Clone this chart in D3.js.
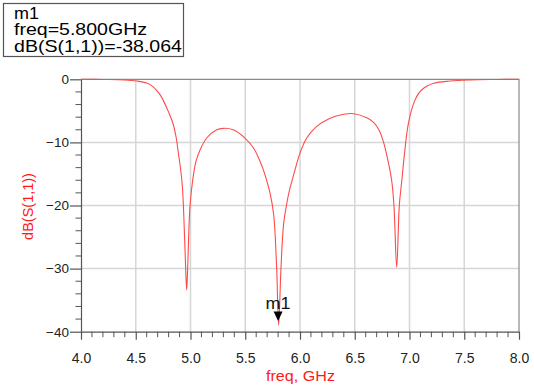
<!DOCTYPE html>
<html>
<head>
<meta charset="utf-8">
<script src="https://cdn.jsdelivr.net/npm/d3@7"></script>
<style>
  body { margin: 0; background: #fff; }
  text { font-family: Arial, "Liberation Sans", sans-serif; }
</style>
</head>
<body>
<div id="chart"></div>
<script>
// S11 trace (GHz, dB)
const freqs = [4.0, 4.2, 4.4, 4.51, 4.6, 4.66, 4.72, 4.75, 4.8, 4.84, 4.87, 4.89, 4.91, 4.925, 4.937, 4.956, 4.965, 4.974, 4.995, 5.02, 5.05, 5.087, 5.148, 5.24, 5.30, 5.39, 5.50, 5.58, 5.63, 5.67, 5.70, 5.73, 5.76, 5.787, 5.805, 5.826, 5.85, 5.878, 5.905, 5.93, 5.955, 6.0, 6.06, 6.15, 6.27, 6.40, 6.49, 6.61, 6.67, 6.72, 6.76, 6.80, 6.837, 6.858, 6.883, 6.907, 6.93, 6.955, 6.99, 7.05, 7.11, 7.22, 7.37, 7.55, 7.8, 8.0];
const s11 = [0, -0.03, -0.1, -0.27, -0.6, -1.2, -2.4, -3.3, -5.2, -7.0, -9.3, -11.8, -14.3, -16.8, -20.8, -30, -33.4, -30, -20.2, -16, -13, -11.2, -9.3, -8.0, -7.77, -8.0, -9.35, -11.0, -12.8, -14.6, -16.3, -18.3, -21.5, -30, -39.0, -30, -23, -19.8, -17.5, -15.9, -14.3, -11.7, -9.35, -7.5, -6.2, -5.55, -5.45, -6.1, -6.8, -8.0, -9.8, -12.6, -16, -20, -29.8, -20, -16, -11.7, -7.0, -3.3, -1.7, -0.64, -0.27, -0.1, -0.03, 0];

const xTicks = [4.0, 4.5, 5.0, 5.5, 6.0, 6.5, 7.0, 7.5, 8.0];
const yTicks = [0, -10, -20, -30, -40];

const markerName = "m1";
const markerFreq = 5.8;
const markerDb = -38.064;

const W = 534, H = 389;
const svg = d3.select("#chart").append("svg")
  .attr("width", W).attr("height", H);

const x = d3.scaleLinear().domain([4, 8]).range([81, 519]);
const y = d3.scaleLinear().domain([-40, 0]).range([331.7, 79.3]);

// grid
svg.append("g")
  .selectAll("line.vg")
  .data(xTicks.slice(1, -1))
  .enter().append("line")
  .attr("x1", d => x(d)).attr("x2", d => x(d))
  .attr("y1", y(0)).attr("y2", y(-40))
  .attr("stroke", "#d6d6d6").attr("stroke-width", 1.5);
svg.append("g")
  .selectAll("line.hg")
  .data(yTicks.slice(1, -1))
  .enter().append("line")
  .attr("x1", x(4)).attr("x2", x(8))
  .attr("y1", d => y(d)).attr("y2", d => y(d))
  .attr("stroke", "#d6d6d6").attr("stroke-width", 1.5);

// top and right frame
svg.append("path")
  .attr("d", `M${x(4)},${y(0)}H${x(8)}V${y(-40)}`)
  .attr("fill", "none").attr("stroke", "#8a8a8a").attr("stroke-width", 1.2);

// minor ticks
const xMinor = d3.range(40, 81).map(v => v / 10).filter(v => Math.round(v * 10) % 5 !== 0);
const yMinor = d3.range(-40, 1, 2).filter(v => v % 10 !== 0);

const xAxis = svg.append("g").attr("transform", `translate(0,${y(-40)})`)
  .call(d3.axisBottom(x).tickValues(xTicks).tickSize(8).tickSizeOuter(0).tickFormat(d3.format(".1f")));
xAxis.append("g").selectAll("line").data(xMinor).enter().append("line")
  .attr("x1", d => x(d)).attr("x2", d => x(d)).attr("y1", 0).attr("y2", 5.5)
  .attr("stroke", "#555");
xAxis.selectAll(".tick text").attr("dy", "1.45em").style("font-size", "14px").attr("fill", "#222")
  .attr("font-family", "Arial, 'Liberation Sans', sans-serif");

const yAxis = svg.append("g").attr("transform", `translate(${x(4)},0)`)
  .call(d3.axisLeft(y).tickValues(yTicks).tickSize(11).tickSizeOuter(0));
yAxis.append("g").selectAll("line").data(yMinor).enter().append("line")
  .attr("x1", -5.5).attr("x2", 0).attr("y1", d => y(d)).attr("y2", d => y(d))
  .attr("stroke", "#555");
yAxis.selectAll(".tick text").attr("x", -12).style("font-size", "13.5px").attr("fill", "#222")
  .attr("font-family", "Arial, 'Liberation Sans', sans-serif");

svg.selectAll(".domain, .tick line").attr("stroke", "#555").attr("stroke-width", 1.2);

// trace
const pts = freqs.map((f, i) => [f, s11[i]]);
const line = d3.line().x(d => x(d[0])).y(d => y(d[1])).curve(d3.curveCatmullRom.alpha(0.5));
svg.append("path")
  .datum(pts)
  .attr("d", line)
  .attr("fill", "none")
  .attr("stroke", "#ff4a4a")
  .attr("stroke-width", 1.1);

// axis titles
svg.append("text")
  .attr("x", 300.5).attr("y", 380.5)
  .attr("text-anchor", "middle")
  .attr("fill", "#ff1a1a")
  .style("font-size", "15px")
  .attr("textLength", 69).attr("lengthAdjust", "spacingAndGlyphs")
  .text("freq, GHz");
svg.append("text")
  .attr("transform", "translate(33,206.5) rotate(-90)")
  .attr("text-anchor", "middle")
  .attr("fill", "#ff1a1a")
  .style("font-size", "14.5px")
  .text("dB(S(1,1))");

// marker
const mx = x(markerFreq), my = y(markerDb);
svg.append("path")
  .attr("d", `M${mx - 4.5},${my - 8}H${mx + 4.5}L${mx},${my + 1.5}Z`)
  .attr("fill", "#000");
svg.append("text")
  .attr("x", mx).attr("y", my - 10)
  .attr("text-anchor", "middle")
  .style("font-size", "16px")
  .attr("fill", "#111")
  .attr("textLength", 25).attr("lengthAdjust", "spacingAndGlyphs")
  .text(markerName);

// marker readout box
svg.append("rect")
  .attr("x", 3.5).attr("y", 3.5).attr("width", 180).attr("height", 53)
  .attr("fill", "#fff").attr("stroke", "#555").attr("stroke-width", 1.2);
const readout = [
  { t: markerName, y: 18.5, w: 25 },
  { t: `freq=${markerFreq.toFixed(3)}GHz`, y: 35, w: 133 },
  { t: `dB(S(1,1))=${markerDb.toFixed(3)}`, y: 52, w: 168 }
];
svg.append("g").selectAll("text").data(readout).enter().append("text")
  .attr("x", 14).attr("y", d => d.y)
  .style("font-size", "16.5px")
  .attr("fill", "#000")
  .attr("textLength", d => d.w).attr("lengthAdjust", "spacingAndGlyphs")
  .text(d => d.t);
</script>
</body>
</html>
